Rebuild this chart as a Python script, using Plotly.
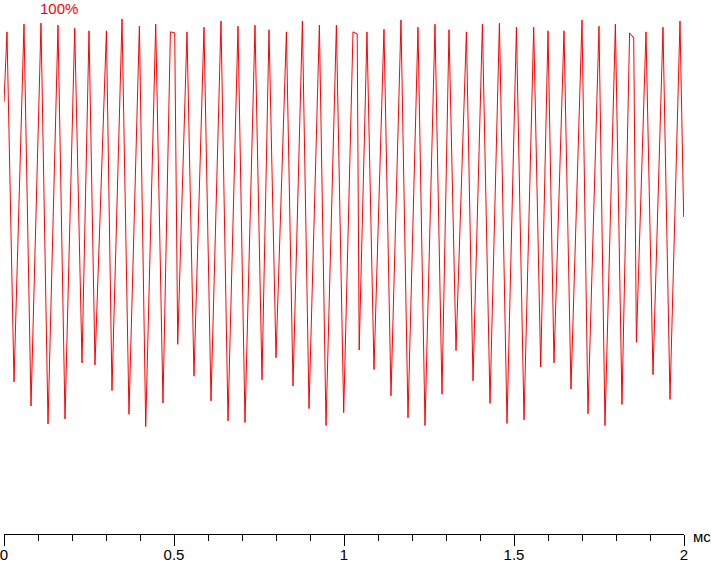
import plotly.graph_objects as go

# time (ms) of each turning point of the waveform
time_ms = [0.000, 0.0088, 0.0294, 0.0588, 0.0794, 0.1088, 0.1294, 0.1588, 0.1794, 0.2079,
           0.2294, 0.2500, 0.2676, 0.3012, 0.3176, 0.3471, 0.3676, 0.3982, 0.4168, 0.4462,
           0.4676, 0.4894, 0.5021, 0.5109, 0.5382, 0.5588, 0.5882, 0.6088, 0.6382, 0.6588,
           0.6882, 0.7088, 0.7382, 0.7588, 0.7794, 0.8000, 0.8306, 0.8500, 0.8776, 0.8971,
           0.9276, 0.9471, 0.9776, 0.9991, 1.0265, 1.0388, 1.0447, 1.0676, 1.0882, 1.1176,
           1.1382, 1.1676, 1.1882, 1.2176, 1.2382, 1.2676, 1.2882, 1.3088, 1.3294, 1.3600,
           1.3794, 1.4071, 1.4294, 1.4571, 1.4794, 1.5071, 1.5294, 1.5579, 1.5785, 1.6000,
           1.6176, 1.6471, 1.6676, 1.7000, 1.7176, 1.7500, 1.7676, 1.7982, 1.8176, 1.8400,
           1.8521, 1.8600, 1.8882, 1.9088, 1.9382, 1.9588, 1.9882, 1.9990]

# brightness level (%) at each turning point
level_pct = [84.0, 97.7, 29.6, 99.2, 24.9, 99.4, 21.4, 99.0, 22.4, 98.4,
             33.3, 97.9, 32.9, 97.9, 27.9, 100.2, 23.3, 98.8, 20.9, 99.2,
             25.5, 97.7, 97.5, 36.9, 97.7, 30.7, 98.6, 25.9, 99.8, 22.0,
             98.8, 21.7, 99.0, 30.0, 98.1, 34.3, 97.7, 28.8, 99.8, 24.4,
             99.0, 21.1, 99.0, 23.6, 97.7, 97.3, 35.8, 97.7, 32.0, 98.2,
             26.9, 100.0, 22.6, 98.6, 21.1, 99.2, 27.2, 98.1, 35.7, 97.7,
             29.8, 99.2, 25.4, 99.4, 21.5, 98.6, 22.2, 98.6, 32.5, 97.9,
             33.3, 97.9, 28.2, 100.0, 23.4, 98.8, 21.1, 99.2, 25.2, 97.5,
             96.5, 37.3, 97.7, 31.0, 98.6, 26.2, 99.8, 61.7]

tick_vals = [0, 0.5, 1, 1.5, 2]
tick_text = ["0", "0.5", "1", "1.5", "2"]
unit_label = "мс"
level_label = "100%"

FONT = "Liberation Sans, Arial, sans-serif"

fig = go.Figure()
fig.add_trace(go.Scatter(
    x=time_ms, y=level_pct, mode="lines",
    line=dict(color="#ff0000", width=1),
    hoverinfo="skip", showlegend=False,
))

fig.update_layout(
    width=711, height=562,
    margin=dict(l=4, r=27, t=0, b=28, autoexpand=False),
    paper_bgcolor="white", plot_bgcolor="white",
    font=dict(family=FONT, size=15, color="black"),
    xaxis=dict(
        range=[0, 2], showgrid=False, zeroline=False, automargin=False,
        showline=True, linecolor="black", linewidth=1,
        ticks="outside", ticklen=11, tickwidth=1, tickcolor="black",
        tickvals=tick_vals, ticktext=tick_text,
        tickfont=dict(family=FONT, size=15, color="black"),
        ticklabelstandoff=-4, ticklabeloverflow="allow",
        minor=dict(dtick=0.1, ticks="outside", ticklen=6, tickwidth=1, tickcolor="black", showgrid=False),
        fixedrange=True,
    ),
    yaxis=dict(
        range=[0, 103.9], visible=False, showgrid=False, zeroline=False,
        automargin=False, fixedrange=True,
    ),
    annotations=[
        dict(text=unit_label, xref="paper", yref="paper", x=(702 - 4) / 680, y=(534 - 536) / 534,
             xanchor="center", yanchor="middle", showarrow=False,
             font=dict(family=FONT, size=15, color="black")),
        dict(text=level_label, xref="paper", yref="paper", x=(59 - 4) / 680, y=(534 - 8) / 534,
             xanchor="center", yanchor="middle", showarrow=False,
             font=dict(family=FONT, size=15, color="#ff0000")),
    ],
)

fig.write_html(
    "out.html",
    config={"displayModeBar": False},
    post_script="document.body.style.margin='0px';document.body.style.overflow='hidden';",
)
